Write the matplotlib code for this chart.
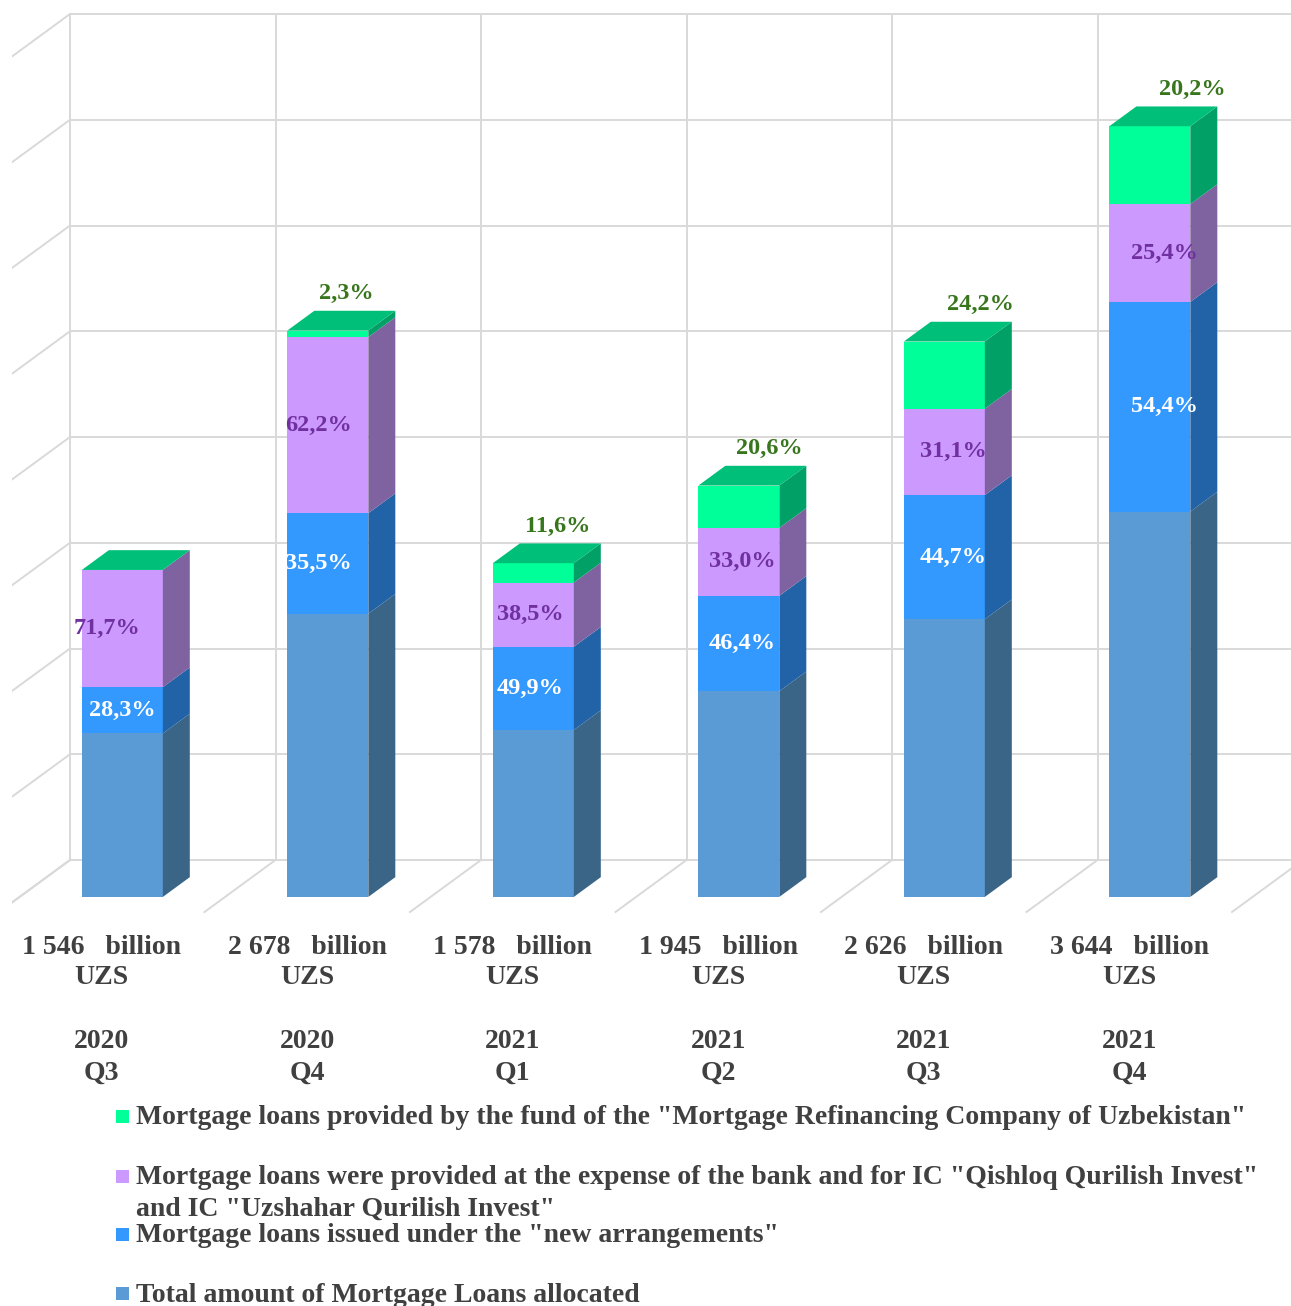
import numpy as np
import matplotlib
matplotlib.use('Agg')
import matplotlib.pyplot as plt
from matplotlib.patches import Polygon, Rectangle

# data (billion UZS and shares in %)
years = ['2020', '2020', '2021', '2021', '2021', '2021']
quarters = ['Q3', 'Q4', 'Q1', 'Q2', 'Q3', 'Q4']
totals = [1546, 2678, 1578, 1945, 2626, 3644]
new_pct = [28.3, 35.5, 49.9, 46.4, 44.7, 54.4]
bank_pct = [71.7, 62.2, 38.5, 33.0, 31.1, 25.4]
fund_pct = [0.0, 2.3, 11.6, 20.6, 24.2, 20.2]

legend_labels = [
    ['Mortgage loans provided by the fund of the "Mortgage Refinancing Company of Uzbekistan"'],
    ['Mortgage loans were provided at the expense of the bank and for IC "Qishloq Qurilish Invest"',
     'and IC "Uzshahar Qurilish Invest"'],
    ['Mortgage loans issued under the "new arrangements"'],
    ['Total amount of Mortgage Loans allocated'],
]

front_col = ['#5B9BD5', '#3399FF', '#CC99FF', '#00FF99']
side_col = ['#3A6587', '#2163A6', '#7F63A0', '#00A066']
top_col = '#00BF78'
grid_col = '#D9D9D9'
txt_col = '#404040'
pct_col = ['white', '#7030A0', '#38761D']

plt.rcParams['font.family'] = ['Liberation Serif', 'DejaVu Serif']
plt.rcParams['font.weight'] = 'bold'

W, H = 1291, 1306
CAT_PX = 205.5      # px per category
VAL_PX = 0.10575    # px per billion
X0_PX = -1          # floor front, category 0 left edge
Y0_PX = 912         # floor front, value 0
DX = 71 / CAT_PX    # full depth shift (categories)
DY = 52 / VAL_PX    # full depth shift (values)
D0, D1 = 0.29, 0.67  # bar depth range
BW = 0.394           # bar width (category units)


def proj(x, v, d):
    return (x + d * DX, v + d * DY)


def px2v(py):
    return (Y0_PX - py) / VAL_PX


fig = plt.figure(figsize=(W / 100, H / 100), dpi=100)
ax = fig.add_axes([12 / W, 0, (W - 12) / W, 1])
ax.set_xlim((12 - X0_PX) / CAT_PX, (W - X0_PX) / CAT_PX)
ax.set_ylim(px2v(H), px2v(0))
ax.axis('off')

n = len(totals)
ymax = 8000
lw = 1.4
for v in range(0, ymax + 1, 1000):
    ax.plot(*zip(proj(0, v, 1), proj(n, v, 1)), color=grid_col, lw=lw, zorder=1)
    ax.plot(*zip(proj(0, v, 0), proj(0, v, 1)), color=grid_col, lw=lw, zorder=1)
for i in range(n + 1):
    ax.plot(*zip(proj(i, 0, 1), proj(i, ymax, 1)), color=grid_col, lw=lw, zorder=1)
    ax.plot(*zip(proj(i, 0, 0), proj(i, 0, 1)), color=grid_col, lw=lw, zorder=1)

for i in range(n):
    t = totals[i]
    segs = [t, t * new_pct[i] / 100, t * bank_pct[i] / 100, t * fund_pct[i] / 100]
    x0 = i + 0.5 - BW / 2
    x1 = i + 0.5 + BW / 2
    bottom = 0
    drift = (i - 2.5) * 6 / CAT_PX
    for k, h in enumerate(segs):
        top = bottom + h
        if h > 0:
            ax.add_patch(Polygon([proj(x0, bottom, D0), proj(x1, bottom, D0),
                                  proj(x1, top, D0), proj(x0, top, D0)],
                                 closed=True, fc=front_col[k], ec='none', zorder=3))
            ax.add_patch(Polygon([proj(x1, bottom, D0), proj(x1, bottom, D1),
                                  proj(x1, top, D1), proj(x1, top, D0)],
                                 closed=True, fc=side_col[k], ec='none', zorder=3))
        if k in (1, 2):
            pct = new_pct[i] if k == 1 else bank_pct[i]
            # keep the first bar's white label inside its face
            dx = drift if (i, k) != (0, 1) else 0
            lx, ly = proj(i + 0.5 + dx, (bottom + top) / 2, D0)
            ax.text(lx, ly, f'{pct:.1f}%'.replace('.', ','), color=pct_col[k - 1],
                    fontsize=17.5, ha='center', va='center', zorder=5)
        bottom = top
    ax.add_patch(Polygon([proj(x0, bottom, D0), proj(x1, bottom, D0),
                          proj(x1, bottom, D1), proj(x0, bottom, D1)],
                         closed=True, fc=top_col, ec='none', zorder=3))
    if fund_pct[i] > 0:
        lx, ly = proj(i + 0.5 + drift, bottom + 17 / VAL_PX, D1)
        ax.text(lx, ly, f'{fund_pct[i]:.1f}%'.replace('.', ','), color=pct_col[2],
                fontsize=17.5, ha='center', va='center', zorder=5)

    cx, _ = proj(i + 0.5, 0, 0)
    lines = [f'{t / 1000:.3f}'.replace('.', ' ') + '   billion', 'UZS', years[i], quarters[i]]
    for txt, off in zip(lines, [35, 65, 130, 161]):
        ax.text(cx, px2v(Y0_PX + off), txt, color=txt_col, fontsize=20,
                ha='center', va='center')

# legend
leg_rows = [[1118], [1178, 1209], [1236], [1295]]
for lab, col, ys in zip(legend_labels, front_col[::-1], leg_rows):
    fig.patches.append(Rectangle((116 / W, 1 - (ys[0] + 4.5) / H), 13 / W, 13 / H,
                                 transform=fig.transFigure, fc=col, ec='none'))
    for line, yy in zip(lab, ys):
        fig.text(136 / W, 1 - yy / H, line, color=txt_col, fontsize=20,
                 ha='left', va='center')

fig.savefig('out.png', dpi=100)
